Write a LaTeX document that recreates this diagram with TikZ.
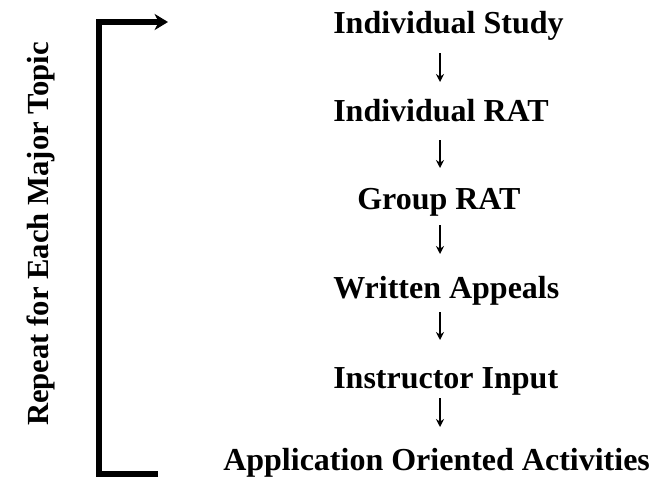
\documentclass[tikz,border=0pt]{standalone}
\usepackage{fontspec}
\setmainfont{Liberation Serif}
\usetikzlibrary{arrows.meta}
\begin{document}
\begin{tikzpicture}[x=0.75pt,y=-0.75pt,
  stepnode/.style={font=\bfseries\fontsize{24}{28}\selectfont, inner sep=0pt, anchor=base west},
  sidelabel/.style={font=\bfseries\fontsize{23}{27}\selectfont, inner sep=0pt, anchor=center, rotate=90},
  flowarrow/.style={-{Stealth[length=6pt,width=6pt]}, line width=1.4pt},
  bracket/.style={line width=4pt}]
\useasboundingbox (0,0) rectangle (652,489);
\node[stepnode] (s1) at (333,33) {Individual Study};
\node[stepnode] (s2) at (333,121) {Individual RAT};
\node[stepnode] (s3) at (357,209) {Group RAT};
\node[stepnode] (s4) at (333,298) {Written Appeals};
\node[stepnode] (s5) at (333,388) {Instructor Input};
\node[stepnode] (s6) at (223,470) {Application Oriented Activities};
\coordinate (a1s) at (440,53); \coordinate (a1e) at (440,82);
\coordinate (a2s) at (440,140); \coordinate (a2e) at (440,168);
\coordinate (a3s) at (440,225); \coordinate (a3e) at (440,254);
\coordinate (a4s) at (440,312); \coordinate (a4e) at (440,340);
\coordinate (a5s) at (440,398); \coordinate (a5e) at (440,427);
\foreach \i in {1,...,5} \draw[flowarrow] (a\i s) -- (a\i e);
\coordinate (bt) at (99,22);
\coordinate (bb) at (99,474);
\coordinate (te) at (168,22);
\coordinate (be) at (158,474);
\draw[bracket, -{Stealth[length=10pt,width=12pt,inset=3pt]}] (be) -- (bb) -- (bt) -- (te);
\node[sidelabel] (rep) at (41,234) {Repeat for Each Major Topic};
\end{tikzpicture}
\end{document}
